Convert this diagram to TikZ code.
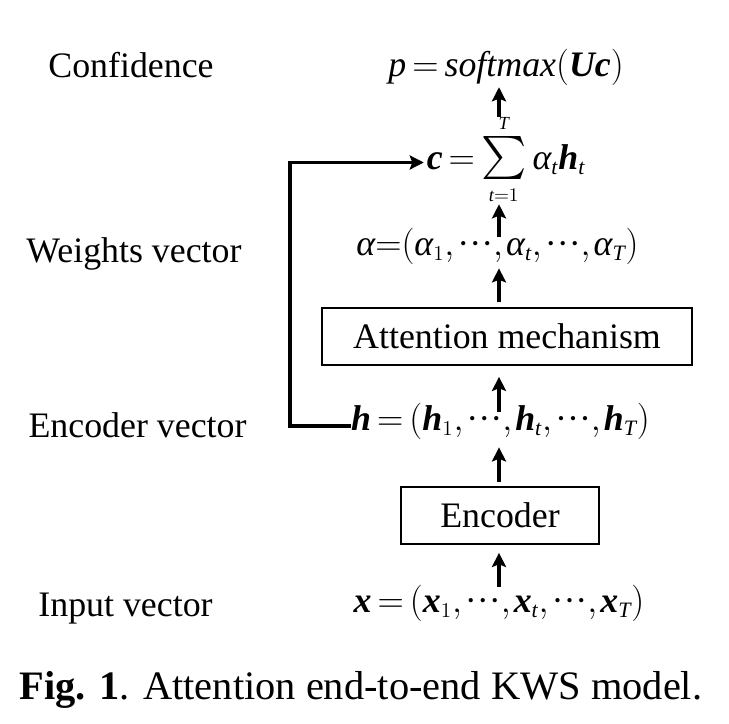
\documentclass[tikz,border=0pt]{standalone}
\usepackage{amsmath}
\usepackage{graphicx}
\usepackage{fontspec}
\setmainfont{Liberation Serif}
\usetikzlibrary{arrows.meta, positioning}

\DeclareMathSizes{20.4}{20.4}{12.5}{10.5}
\thickmuskip=3mu plus 2mu
\newcommand{\vb}[1]{\text{\bfseries\itshape #1}}
\newcommand{\vi}[1]{\text{\itshape #1}}
\newcommand{\sep}{{,}\mkern1.5mu\text{···}{,}\mkern1.5mu}
\newcommand{\bigsum}{\mathop{\scalebox{1.18}{$\textstyle\sum$}}}

\begin{document}
\begin{tikzpicture}[>={Stealth[length=8pt,width=8pt,inset=1.5pt]},
		every node/.style={font=\fontsize{20.4}{24}\selectfont},
		row/.style={inner sep=0pt, anchor=base, text height=0.35cm, text depth=0.2cm},
		block/.style={draw, line width=1.1pt, minimum height=1.14cm},
		flow/.style={->, line width=2pt},
		lab/.style={anchor=base}]
		\useasboundingbox (0,0) rectangle (14.58,-14.46);

		% the column, bottom to top
		\node[row]                         (x)   at (9.98,-12.24)  {$\vb{x} = (\vb{x}_1\sep\vb{x}_{\vi{t}}\sep\vb{x}_{\vi{T}})$};
		\node[block, minimum width=3.96cm] (enc) at (10.0,-10.31)  {Encoder};
		\node[row]                         (h)   at (10.01,-8.6)   {$\vb{h} = (\vb{h}_1\sep\vb{h}_{\vi{t}}\sep\vb{h}_{\vi{T}})$};
		\node[block, minimum width=7.4cm]  (att) at (10.14,-6.73)  {Attention mechanism};
		\node[row]                         (al)  at (9.95,-5.1)    {$\vi{α}{=}(\vi{α}_1\sep\vi{α}_{\vi{t}}\sep\vi{α}_{\vi{T}})$};
		\node[row, text height=0.92cm, text depth=0.66cm]
		                                   (c)   at (10.12,-3.38)  {$\vb{c} = \bigsum\limits_{\scriptscriptstyle\vi{t}=1}^{\scriptscriptstyle\vi{T}}\vi{α}_{\vi{t}}\vb{h}_{\vi{t}}$};
		\node[row]                         (p)   at (10.12,-1.52)  {$\vi{p} = \vi{softmax}(\vb{Uc})$};

		% labels on the left
		\node[lab] (conf) at (2.62,-1.54)  {Confidence};
		\node[lab] (wvec) at (2.68,-5.24)  {Weights vector};
		\node[lab] (evec) at (2.75,-8.74)  {Encoder vector};
		\node[lab] (ivec) at (2.51,-12.32) {Input vector};

		\path[flow, shorten <=4.2pt, shorten >=4.5pt] (x.north)       edge (x |- enc.south);
		\path[flow, shorten <=2.3pt, shorten >=4pt]   (x |- enc.north) edge (x |- h.south);
		\path[flow, shorten <=0pt,   shorten >=6.2pt] (x |- h.north)   edge (x |- att.south);
		\path[flow, shorten <=2.8pt, shorten >=1.7pt] (x |- att.north) edge (x |- al.south);
		\path[flow, shorten <=0pt,   shorten >=1.1pt] (x |- al.north)  edge (x |- c.south);
		\path[flow, shorten <=3pt,   shorten >=0.5pt] (x |- c.north)   edge (x |- p.south);

		\coordinate (fb) at (5.8,0);
		\draw[flow, shorten >=1.5pt] (h.west) -- (h.west -| fb) |- (c.west);

		\node[font=\fontsize{23}{27}\selectfont] (cap) at (7.22,-13.8) {\textbf{Fig. 1}. Attention end-to-end KWS model.};
	\end{tikzpicture}
\end{document}
